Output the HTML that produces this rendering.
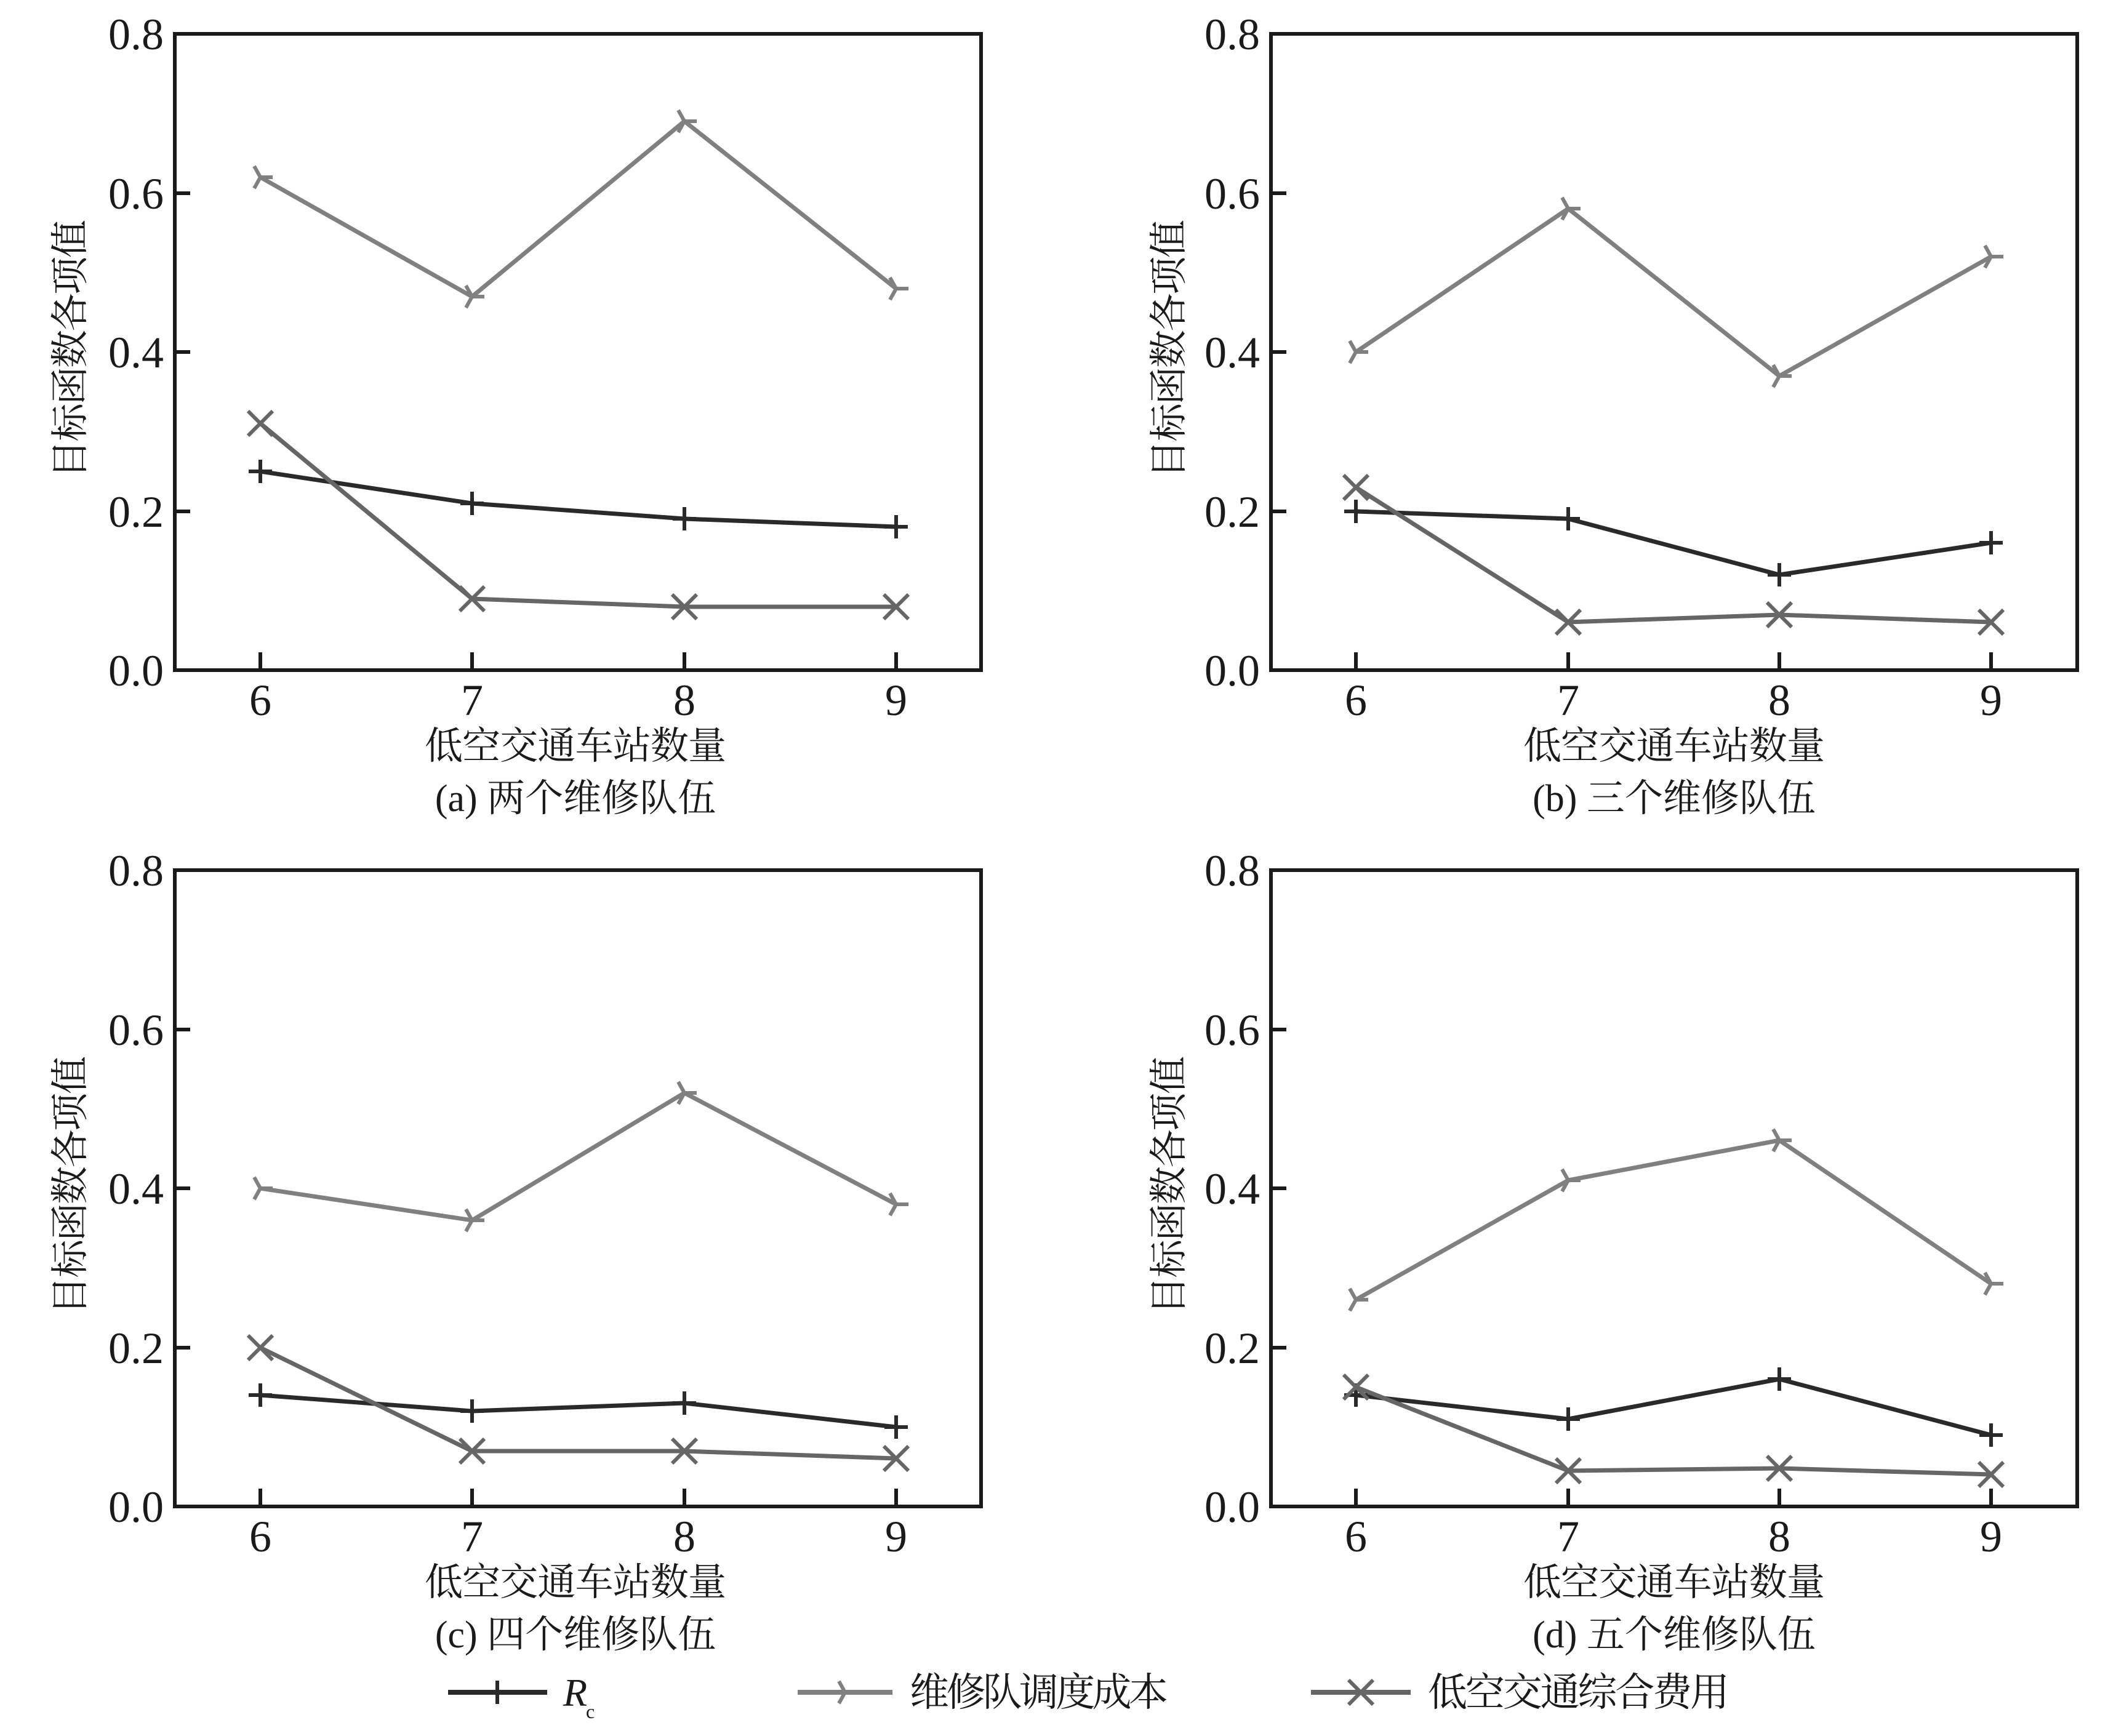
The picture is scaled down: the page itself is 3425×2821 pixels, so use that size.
<!DOCTYPE html>
<html><head><meta charset="utf-8"><style>
html,body{margin:0;padding:0;background:#fff;}
svg{display:block;}
text{font-family:"Liberation Serif","Noto Serif CJK SC",serif;fill:#1a1a1a;}
</style></head><body>
<svg width="3425" height="2821" viewBox="0 0 3425 2821" xmlns="http://www.w3.org/2000/svg">
<defs>
<g id="pl" stroke="#2a2a2a" stroke-width="6"><line x1="-19" y1="0" x2="19" y2="0"/><line x1="0" y1="-19" x2="0" y2="19"/></g>
<g id="xm" stroke="#666" stroke-width="6"><line x1="-20" y1="-20" x2="20" y2="20"/><line x1="-20" y1="20" x2="20" y2="-20"/></g>
<g id="tr" stroke="#808080" stroke-width="6"><line x1="0" y1="0" x2="20" y2="0"/><line x1="0" y1="0" x2="-10" y2="-18"/><line x1="0" y1="0" x2="-10" y2="18"/></g>
</defs>

<g fill="none" stroke="#1a1a1a" stroke-width="6">
<rect x="284" y="55" width="1310" height="1034"/>
<rect x="2065" y="55" width="1310" height="1034"/>
<rect x="284" y="1414" width="1310" height="1034"/>
<rect x="2065" y="1414" width="1310" height="1034"/>
</g>
<g stroke="#1a1a1a" stroke-width="6">
<line x1="284" y1="831" x2="309" y2="831"/><line x1="284" y1="572" x2="309" y2="572"/><line x1="284" y1="314" x2="309" y2="314"/>
<line x1="2065" y1="831" x2="2090" y2="831"/><line x1="2065" y1="572" x2="2090" y2="572"/><line x1="2065" y1="314" x2="2090" y2="314"/>
<line x1="284" y1="2190" x2="309" y2="2190"/><line x1="284" y1="1931" x2="309" y2="1931"/><line x1="284" y1="1673" x2="309" y2="1673"/>
<line x1="2065" y1="2190" x2="2090" y2="2190"/><line x1="2065" y1="1931" x2="2090" y2="1931"/><line x1="2065" y1="1673" x2="2090" y2="1673"/>
<line x1="423" y1="1089" x2="423" y2="1060"/><line x1="767" y1="1089" x2="767" y2="1060"/><line x1="1112" y1="1089" x2="1112" y2="1060"/><line x1="1456" y1="1089" x2="1456" y2="1060"/>
<line x1="2203" y1="1089" x2="2203" y2="1060"/><line x1="2548" y1="1089" x2="2548" y2="1060"/><line x1="2891" y1="1089" x2="2891" y2="1060"/><line x1="3235" y1="1089" x2="3235" y2="1060"/>
<line x1="423" y1="2448" x2="423" y2="2419"/><line x1="767" y1="2448" x2="767" y2="2419"/><line x1="1112" y1="2448" x2="1112" y2="2419"/><line x1="1456" y1="2448" x2="1456" y2="2419"/>
<line x1="2203" y1="2448" x2="2203" y2="2419"/><line x1="2548" y1="2448" x2="2548" y2="2419"/><line x1="2891" y1="2448" x2="2891" y2="2419"/><line x1="3235" y1="2448" x2="3235" y2="2419"/>
</g>

<g font-size="72" text-anchor="end">
<text x="266" y="1114">0.0</text><text x="266" y="856">0.2</text><text x="266" y="597">0.4</text><text x="266" y="339">0.6</text><text x="266" y="80">0.8</text>
<text x="2047" y="1114">0.0</text><text x="2047" y="856">0.2</text><text x="2047" y="597">0.4</text><text x="2047" y="339">0.6</text><text x="2047" y="80">0.8</text>
<text x="266" y="2473">0.0</text><text x="266" y="2215">0.2</text><text x="266" y="1956">0.4</text><text x="266" y="1698">0.6</text><text x="266" y="1439">0.8</text>
<text x="2047" y="2473">0.0</text><text x="2047" y="2215">0.2</text><text x="2047" y="1956">0.4</text><text x="2047" y="1698">0.6</text><text x="2047" y="1439">0.8</text>
</g>
<g font-size="72" text-anchor="middle">
<text x="423" y="1162">6</text><text x="767" y="1162">7</text><text x="1112" y="1162">8</text><text x="1456" y="1162">9</text>
<text x="2203" y="1162">6</text><text x="2548" y="1162">7</text><text x="2891" y="1162">8</text><text x="3235" y="1162">9</text>
<text x="423" y="2521">6</text><text x="767" y="2521">7</text><text x="1112" y="2521">8</text><text x="1456" y="2521">9</text>
<text x="2203" y="2521">6</text><text x="2548" y="2521">7</text><text x="2891" y="2521">8</text><text x="3235" y="2521">9</text>
</g>
<g font-size="62" text-anchor="middle">
<text x="935" y="1233" textLength="490">低空交通车站数量</text>
<text x="2720" y="1233" textLength="490">低空交通车站数量</text>
<text x="935" y="2592" textLength="490">低空交通车站数量</text>
<text x="2720" y="2592" textLength="490">低空交通车站数量</text>
<text x="935" y="1318">(a) 两个维修队伍</text>
<text x="2720" y="1318">(b) 三个维修队伍</text>
<text x="935" y="2677">(c) 四个维修队伍</text>
<text x="2720" y="2677">(d) 五个维修队伍</text>
<text transform="translate(135,567) rotate(-90)" textLength="420">目标函数各项值</text>
<text transform="translate(1920,567) rotate(-90)" textLength="420">目标函数各项值</text>
<text transform="translate(135,1926) rotate(-90)" textLength="420">目标函数各项值</text>
<text transform="translate(1920,1926) rotate(-90)" textLength="420">目标函数各项值</text>
</g>

<g fill="none" stroke-width="7" stroke-linejoin="round">
<polyline stroke="#808080" points="423,288 767,482 1112,197 1456,469"/>
<polyline stroke="#2a2a2a" points="423,766 767,818 1112,843 1456,856"/>
<polyline stroke="#666" points="423,688 767,973 1112,986 1456,986"/>

<polyline stroke="#808080" points="2203,572 2548,339 2891,611 3235,417"/>
<polyline stroke="#2a2a2a" points="2203,831 2548,843 2891,934 3235,882"/>
<polyline stroke="#666" points="2203,792 2548,1011 2891,999 3235,1011"/>

<polyline stroke="#808080" points="423,1931 767,1983 1112,1776 1456,1957"/>
<polyline stroke="#2a2a2a" points="423,2267 767,2293 1112,2280 1456,2319"/>
<polyline stroke="#666" points="423,2190 767,2358 1112,2358 1456,2370"/>

<polyline stroke="#808080" points="2203,2112 2548,1918 2891,1853 3235,2086"/>
<polyline stroke="#2a2a2a" points="2203,2267 2548,2306 2891,2241 3235,2332"/>
<polyline stroke="#666" points="2203,2254 2548,2390 2891,2386 3235,2396"/>
</g>
<use href="#tr" x="423" y="288"/><use href="#tr" x="767" y="482"/><use href="#tr" x="1112" y="197"/><use href="#tr" x="1456" y="469"/>
<use href="#pl" x="423" y="766"/><use href="#pl" x="767" y="818"/><use href="#pl" x="1112" y="843"/><use href="#pl" x="1456" y="856"/>
<use href="#xm" x="423" y="688"/><use href="#xm" x="767" y="973"/><use href="#xm" x="1112" y="986"/><use href="#xm" x="1456" y="986"/>

<use href="#tr" x="2203" y="572"/><use href="#tr" x="2548" y="339"/><use href="#tr" x="2891" y="611"/><use href="#tr" x="3235" y="417"/>
<use href="#pl" x="2203" y="831"/><use href="#pl" x="2548" y="843"/><use href="#pl" x="2891" y="934"/><use href="#pl" x="3235" y="882"/>
<use href="#xm" x="2203" y="792"/><use href="#xm" x="2548" y="1011"/><use href="#xm" x="2891" y="999"/><use href="#xm" x="3235" y="1011"/>

<use href="#tr" x="423" y="1931"/><use href="#tr" x="767" y="1983"/><use href="#tr" x="1112" y="1776"/><use href="#tr" x="1456" y="1957"/>
<use href="#pl" x="423" y="2267"/><use href="#pl" x="767" y="2293"/><use href="#pl" x="1112" y="2280"/><use href="#pl" x="1456" y="2319"/>
<use href="#xm" x="423" y="2190"/><use href="#xm" x="767" y="2358"/><use href="#xm" x="1112" y="2358"/><use href="#xm" x="1456" y="2370"/>

<use href="#tr" x="2203" y="2112"/><use href="#tr" x="2548" y="1918"/><use href="#tr" x="2891" y="1853"/><use href="#tr" x="3235" y="2086"/>
<use href="#pl" x="2203" y="2267"/><use href="#pl" x="2548" y="2306"/><use href="#pl" x="2891" y="2241"/><use href="#pl" x="3235" y="2332"/>
<use href="#xm" x="2203" y="2254"/><use href="#xm" x="2548" y="2390"/><use href="#xm" x="2891" y="2386"/><use href="#xm" x="3235" y="2396"/>

<g stroke-width="8">
<line x1="728" y1="2750" x2="889" y2="2750" stroke="#2a2a2a"/>
<line x1="1296" y1="2750" x2="1450" y2="2750" stroke="#808080"/>
<line x1="2130" y1="2750" x2="2292" y2="2750" stroke="#666"/>
</g>
<use href="#pl" x="808" y="2750"/>
<use href="#tr" x="1373" y="2750"/>
<use href="#xm" x="2211" y="2750"/>
<g font-size="64">
<text x="915" y="2772" font-style="italic">R</text><text x="952" y="2792" font-size="32">c</text>
<text x="1478" y="2772" textLength="420">维修队调度成本</text>
<text x="2320" y="2772" textLength="490">低空交通综合费用</text>
</g>
</svg>
</body></html>
